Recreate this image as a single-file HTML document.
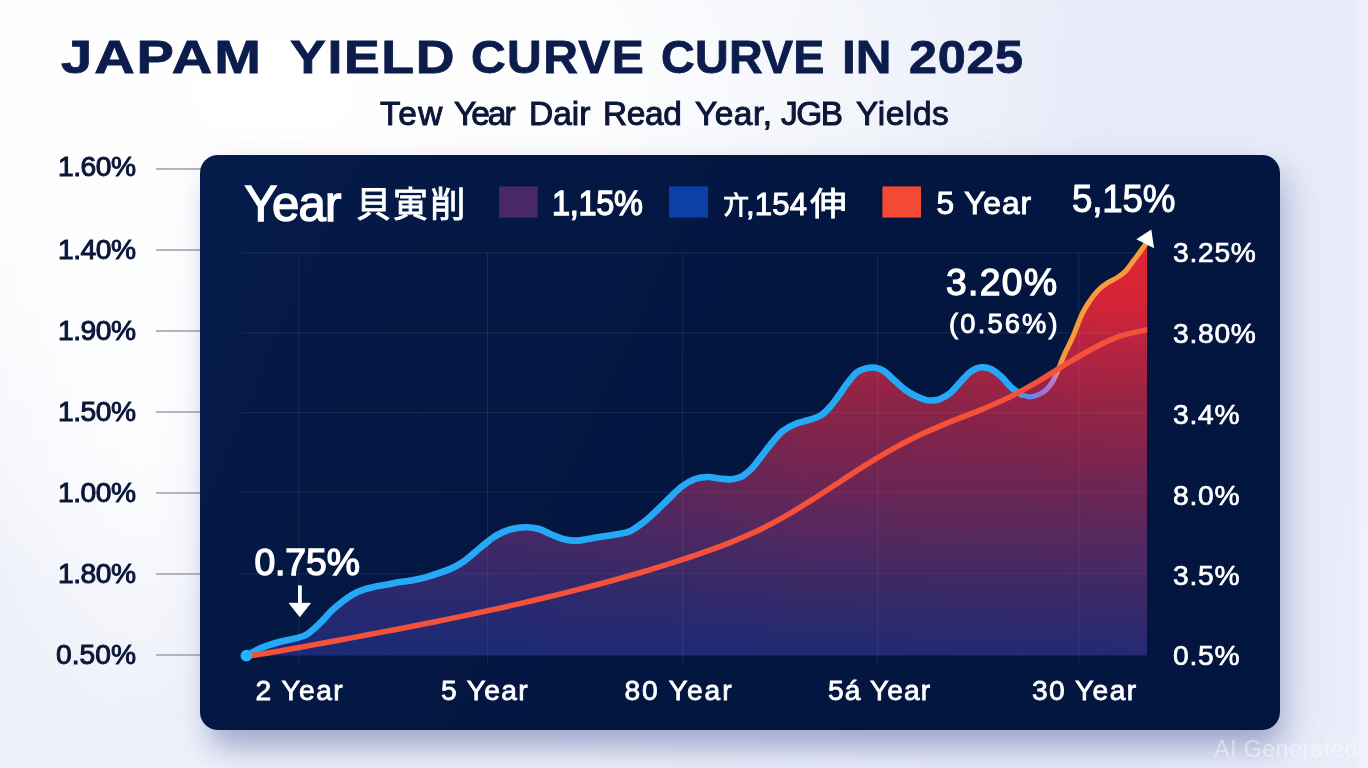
<!DOCTYPE html>
<html lang="en">
<head>
<meta charset="utf-8">
<title>Japan Yield Curve in 2025</title>
<style>
html,body{margin:0;padding:0;}
body{width:1368px;height:768px;overflow:hidden;background:#eef1fa;font-family:"Liberation Sans","Noto Sans CJK JP",sans-serif;}
#stage{position:relative;width:1368px;height:768px;overflow:hidden;
  background:
    linear-gradient(90deg, rgba(255,255,255,0) 0, rgba(255,255,255,0) 1352px, rgba(255,255,255,.28) 1362px, rgba(255,255,255,.28) 1368px),
    radial-gradient(ellipse 170px 330px at 140px 400px, rgba(255,255,255,.75) 0%, rgba(255,255,255,.45) 50%, rgba(255,255,255,0) 100%),
    radial-gradient(ellipse 820px 520px at 20% 12%, #ffffff 0%, rgba(255,255,255,.85) 40%, rgba(255,255,255,0) 100%),
    linear-gradient(100deg, #eff1f9 0%, #edf0f9 45%, #e7ebf8 75%, #e9edf9 100%);}
.tx{position:absolute;white-space:nowrap;transform-origin:0 50%;line-height:1;margin:0;padding:0;font-weight:normal;font-family:"Liberation Sans","Noto Sans CJK JP",sans-serif;}
.cjk{font-family:"Noto Sans CJK JP","Liberation Sans",sans-serif;font-weight:400;}
h1,h2,p{margin:0;padding:0;font-size:inherit;font-weight:inherit;}
.tick{position:absolute;left:156px;width:46px;height:2px;background:#b3b5bc;display:block;}
#panel{position:absolute;left:200px;top:155px;width:1079.5px;height:575px;border-radius:18px;background:linear-gradient(115deg,#051b4a 0%,#041844 22%,#031640 50%,#031640 100%);
  box-shadow: 10px 14px 28px rgba(84,100,160,.22), 4px 26px 26px -10px rgba(84,100,160,.30), 8px 16px 50px rgba(120,135,200,.12);}
#chart{position:absolute;left:0;top:0;width:1368px;height:768px;overflow:visible;}
</style>
</head>
<body>
<div id="stage">
<div id="yaxis"><i class="tick" style="top:168px"></i><i class="tick" style="top:249px"></i><i class="tick" style="top:330px"></i><i class="tick" style="top:411px"></i><i class="tick" style="top:492px"></i><i class="tick" style="top:573px"></i><i class="tick" style="top:654px"></i></div>
<div id="panel"></div>
<svg id="chart" viewBox="0 0 1368 768" width="1368" height="768">
<defs>
<linearGradient id="gfill" gradientUnits="userSpaceOnUse" x1="0" y1="236" x2="0" y2="656">
<stop offset="0" stop-color="#dc232f"/>
<stop offset="0.152" stop-color="#cf2336"/>
<stop offset="0.27" stop-color="#aa2342"/>
<stop offset="0.39" stop-color="#8e2347"/>
<stop offset="0.471" stop-color="#81244b"/>
<stop offset="0.59" stop-color="#6c2554"/>
<stop offset="0.71" stop-color="#55285f"/>
<stop offset="0.829" stop-color="#3b2966"/>
<stop offset="0.948" stop-color="#272a70"/>
<stop offset="1" stop-color="#202a75"/>
</linearGradient>
<linearGradient id="gline" gradientUnits="userSpaceOnUse" x1="1014" y1="0" x2="1062" y2="0">
<stop offset="0" stop-color="#25a9f7"/>
<stop offset="0.28" stop-color="#5b8df0"/>
<stop offset="0.60" stop-color="#9a72dc"/>
<stop offset="0.84" stop-color="#b87ac8"/>
<stop offset="0.93" stop-color="#f0905a"/>
<stop offset="1" stop-color="#f89a3a"/>
</linearGradient>
<path id="areaB" d="M247.0,655.5C249.4,654.2 256.2,650.0 261.4,647.8C266.6,645.6 272.6,643.8 278.3,642.2C284.0,640.6 290.5,639.7 295.3,638.4C300.1,637.1 302.9,636.9 307.1,634.2C311.3,631.6 316.5,626.4 320.6,622.5C324.7,618.6 328.1,614.1 331.7,610.6C335.3,607.1 338.6,604.5 342.1,601.8C345.6,599.1 349.0,596.6 352.5,594.6C356.0,592.6 359.4,591.1 362.9,589.9C366.4,588.6 369.4,588.0 373.3,587.1C377.2,586.2 381.6,585.6 386.0,584.8C390.4,583.9 396.1,582.7 400.0,582.0C403.9,581.3 404.5,581.7 409.2,580.8C413.9,579.9 421.0,578.7 428.0,576.6C435.0,574.5 445.3,571.0 451.4,568.4C457.5,565.8 459.6,564.4 464.4,561.0C469.2,557.6 474.8,552.2 480.0,548.0C485.2,543.8 490.4,538.9 495.6,535.8C500.8,532.7 505.9,530.6 511.0,529.2C516.1,527.8 521.3,527.2 526.0,527.2C530.7,527.2 534.7,527.7 539.0,529.0C543.3,530.3 547.7,533.0 552.0,534.8C556.3,536.5 560.7,538.5 565.0,539.5C569.3,540.5 573.7,540.8 578.0,540.6C582.3,540.4 586.7,539.2 591.0,538.5C595.3,537.8 599.7,536.9 604.0,536.2C608.3,535.5 612.7,535.1 617.0,534.3C621.3,533.5 625.7,533.1 630.0,531.2C634.3,529.3 638.7,526.0 643.0,522.7C647.3,519.4 651.7,515.2 656.0,511.2C660.3,507.2 664.7,502.6 669.0,498.5C673.3,494.4 677.7,489.6 682.0,486.4C686.3,483.1 690.7,480.6 695.0,479.0C699.3,477.4 703.7,477.0 708.0,477.0C712.3,477.0 717.0,478.4 721.0,478.8C725.0,479.2 728.3,479.6 731.8,479.2C735.3,478.8 738.5,478.3 742.0,476.3C745.5,474.3 749.1,471.1 752.6,467.4C756.1,463.7 759.5,458.6 763.0,454.2C766.5,449.8 770.1,444.9 773.4,441.0C776.7,437.1 779.4,433.7 783.0,430.9C786.6,428.1 790.9,425.8 795.1,424.0C799.3,422.2 803.8,421.6 808.1,420.2C812.4,418.8 817.5,417.5 821.1,415.3C824.7,413.1 827.1,410.1 829.9,407.0C832.7,403.9 835.2,400.3 838.0,396.6C840.8,392.9 843.3,388.6 846.4,384.6C849.5,380.6 853.3,375.1 856.8,372.4C860.3,369.6 864.1,368.9 867.2,368.1C870.4,367.3 872.8,367.3 875.6,367.8C878.4,368.3 880.8,368.9 883.9,371.0C887.0,373.1 890.8,377.1 894.3,380.2C897.8,383.3 901.3,386.9 904.8,389.5C908.2,392.1 911.7,394.1 915.2,395.8C918.7,397.5 922.8,399.1 925.6,399.9C928.4,400.7 929.4,400.6 931.8,400.5C934.2,400.4 937.1,400.3 940.2,399.0C943.3,397.7 947.2,395.6 950.6,392.8C954.0,390.0 957.1,385.6 960.5,382.0C963.9,378.4 967.6,373.8 971.0,371.4C974.4,368.9 977.6,367.7 981.0,367.3C984.4,366.9 987.9,367.6 991.4,369.2C994.9,370.8 998.4,374.1 1001.8,377.2C1005.2,380.3 1008.5,385.0 1012.0,388.0C1015.5,391.0 1019.4,393.5 1022.6,395.0C1025.8,396.5 1028.1,397.0 1031.0,396.8C1033.9,396.6 1037.5,395.2 1040.0,394.0C1042.5,392.8 1044.1,391.6 1046.0,389.8C1047.9,388.0 1049.9,385.7 1051.6,383.2C1053.3,380.7 1054.7,377.6 1056.0,374.8C1057.3,372.0 1057.9,370.2 1059.4,366.5C1060.9,362.8 1062.9,357.8 1065.2,352.6C1067.5,347.4 1070.7,341.8 1073.4,335.5C1076.1,329.2 1078.9,320.8 1081.6,315.0C1084.3,309.2 1087.1,305.0 1089.8,300.9C1092.5,296.8 1095.1,293.4 1098.0,290.4C1100.9,287.4 1104.1,285.1 1107.4,282.9C1110.7,280.7 1114.9,279.1 1118.0,277.0C1121.1,274.9 1123.7,273.1 1126.2,270.4C1128.7,267.7 1130.9,264.1 1133.2,261.0C1135.5,257.9 1138.1,254.6 1140.2,251.7C1142.3,248.8 1145.1,244.9 1146.1,243.5L1147,243.5L1147,655.5L247,655.5Z"/>
<path id="areaR" d="M252.0,655.5C256.7,654.8 270.7,652.6 280.0,651.0C289.3,649.4 298.7,647.6 308.0,645.9C317.3,644.2 326.7,642.4 336.0,640.7C345.3,639.0 354.7,637.2 364.0,635.5C373.3,633.8 382.7,632.0 392.0,630.2C401.3,628.4 410.7,626.6 420.0,624.7C429.3,622.9 438.7,621.0 448.0,619.1C457.3,617.2 466.7,615.3 476.0,613.3C485.3,611.3 494.7,609.3 504.0,607.2C513.3,605.1 522.7,603.0 532.0,600.8C541.3,598.6 550.7,596.4 560.0,594.1C569.3,591.8 578.7,589.4 588.0,587.0C597.3,584.6 606.7,582.1 616.0,579.5C625.3,576.9 634.7,574.3 644.0,571.5C653.3,568.7 662.7,565.9 672.0,562.9C681.3,559.9 690.7,556.9 700.0,553.6C709.3,550.4 718.7,547.1 728.0,543.4C737.3,539.7 746.7,536.0 756.0,531.6C765.3,527.2 774.7,522.2 784.0,516.9C793.3,511.6 802.7,505.8 812.0,499.9C821.3,494.0 830.7,487.7 840.0,481.7C849.3,475.7 858.7,469.4 868.0,463.7C877.3,457.9 886.7,452.3 896.0,447.2C905.3,442.1 914.7,437.5 924.0,433.1C933.3,428.8 942.7,424.9 952.0,421.1C961.3,417.3 970.7,414.0 980.0,410.1C989.3,406.2 998.7,402.5 1008.0,397.9C1017.3,393.3 1026.7,388.1 1036.0,382.7C1045.3,377.3 1054.7,371.0 1064.0,365.4C1073.3,359.8 1082.7,353.9 1092.0,349.0C1101.3,344.1 1110.8,339.4 1120.0,336.2C1129.2,333.0 1142.5,330.8 1147.0,329.7L1147,655.5L252,655.5Z"/>
<clipPath id="area"><use href="#areaB"/><use href="#areaR"/></clipPath>
<linearGradient id="gtint" gradientUnits="userSpaceOnUse" x1="247" y1="0" x2="1147" y2="0">
<stop offset="0" stop-color="#10287a" stop-opacity="0.36"/>
<stop offset="0.30" stop-color="#10287a" stop-opacity="0.24"/>
<stop offset="0.48" stop-color="#10287a" stop-opacity="0.13"/>
<stop offset="0.61" stop-color="#10287a" stop-opacity="0.02"/>
<stop offset="0.62" stop-color="#c82040" stop-opacity="0"/>
<stop offset="1" stop-color="#c82040" stop-opacity="0.03"/>
</linearGradient>
<radialGradient id="gred" gradientUnits="userSpaceOnUse" cx="1147" cy="255" r="235">
<stop offset="0" stop-color="#f02838" stop-opacity="0.26"/>
<stop offset="1" stop-color="#f02838" stop-opacity="0"/>
</radialGradient>
<clipPath id="plot"><rect x="240" y="225" width="907.3" height="430.5"/></clipPath>
<clipPath id="plot2"><rect x="230" y="225" width="917.3" height="450"/></clipPath>
<clipPath id="leftpart"><rect x="230" y="225" width="792" height="450"/></clipPath>
</defs>
<g stroke="rgba(255,255,255,0.075)" stroke-width="1.1" fill="none"><line x1="242" x2="1147" y1="252.9" y2="252.9"/><line x1="242" x2="1147" y1="332.9" y2="332.9"/><line x1="242" x2="1147" y1="412.6" y2="412.6"/><line x1="242" x2="1147" y1="492.3" y2="492.3"/><line x1="242" x2="1147" y1="573.8" y2="573.8"/><line x1="299" x2="299" y1="252.9" y2="663"/><line x1="487.5" x2="487.5" y1="252.9" y2="663"/><line x1="682.6" x2="682.6" y1="252.9" y2="663"/><line x1="877.6" x2="877.6" y1="252.9" y2="663"/><line x1="1079" x2="1079" y1="252.9" y2="663"/></g>
<g clip-path="url(#plot)">
<g fill="url(#gfill)"><use href="#areaB"/><use href="#areaR"/></g>
<g fill="url(#gtint)"><use href="#areaB"/></g>
<g fill="url(#gred)"><use href="#areaB"/></g>
</g>
<g clip-path="url(#area)" stroke="rgba(255,255,255,0.06)" stroke-width="1.1" fill="none"><line x1="242" x2="1147" y1="252.9" y2="252.9"/><line x1="242" x2="1147" y1="332.9" y2="332.9"/><line x1="242" x2="1147" y1="412.6" y2="412.6"/><line x1="242" x2="1147" y1="492.3" y2="492.3"/><line x1="242" x2="1147" y1="573.8" y2="573.8"/><line x1="299" x2="299" y1="252.9" y2="663"/><line x1="487.5" x2="487.5" y1="252.9" y2="663"/><line x1="682.6" x2="682.6" y1="252.9" y2="663"/><line x1="877.6" x2="877.6" y1="252.9" y2="663"/><line x1="1079" x2="1079" y1="252.9" y2="663"/></g>
<path d="M247.0,655.5C249.4,654.2 256.2,650.0 261.4,647.8C266.6,645.6 272.6,643.8 278.3,642.2C284.0,640.6 290.5,639.7 295.3,638.4C300.1,637.1 302.9,636.9 307.1,634.2C311.3,631.6 316.5,626.4 320.6,622.5C324.7,618.6 328.1,614.1 331.7,610.6C335.3,607.1 338.6,604.5 342.1,601.8C345.6,599.1 349.0,596.6 352.5,594.6C356.0,592.6 359.4,591.1 362.9,589.9C366.4,588.6 369.4,588.0 373.3,587.1C377.2,586.2 381.6,585.6 386.0,584.8C390.4,583.9 396.1,582.7 400.0,582.0C403.9,581.3 404.5,581.7 409.2,580.8C413.9,579.9 421.0,578.7 428.0,576.6C435.0,574.5 445.3,571.0 451.4,568.4C457.5,565.8 459.6,564.4 464.4,561.0C469.2,557.6 474.8,552.2 480.0,548.0C485.2,543.8 490.4,538.9 495.6,535.8C500.8,532.7 505.9,530.6 511.0,529.2C516.1,527.8 521.3,527.2 526.0,527.2C530.7,527.2 534.7,527.7 539.0,529.0C543.3,530.3 547.7,533.0 552.0,534.8C556.3,536.5 560.7,538.5 565.0,539.5C569.3,540.5 573.7,540.8 578.0,540.6C582.3,540.4 586.7,539.2 591.0,538.5C595.3,537.8 599.7,536.9 604.0,536.2C608.3,535.5 612.7,535.1 617.0,534.3C621.3,533.5 625.7,533.1 630.0,531.2C634.3,529.3 638.7,526.0 643.0,522.7C647.3,519.4 651.7,515.2 656.0,511.2C660.3,507.2 664.7,502.6 669.0,498.5C673.3,494.4 677.7,489.6 682.0,486.4C686.3,483.1 690.7,480.6 695.0,479.0C699.3,477.4 703.7,477.0 708.0,477.0C712.3,477.0 717.0,478.4 721.0,478.8C725.0,479.2 728.3,479.6 731.8,479.2C735.3,478.8 738.5,478.3 742.0,476.3C745.5,474.3 749.1,471.1 752.6,467.4C756.1,463.7 759.5,458.6 763.0,454.2C766.5,449.8 770.1,444.9 773.4,441.0C776.7,437.1 779.4,433.7 783.0,430.9C786.6,428.1 790.9,425.8 795.1,424.0C799.3,422.2 803.8,421.6 808.1,420.2C812.4,418.8 817.5,417.5 821.1,415.3C824.7,413.1 827.1,410.1 829.9,407.0C832.7,403.9 835.2,400.3 838.0,396.6C840.8,392.9 843.3,388.6 846.4,384.6C849.5,380.6 853.3,375.1 856.8,372.4C860.3,369.6 864.1,368.9 867.2,368.1C870.4,367.3 872.8,367.3 875.6,367.8C878.4,368.3 880.8,368.9 883.9,371.0C887.0,373.1 890.8,377.1 894.3,380.2C897.8,383.3 901.3,386.9 904.8,389.5C908.2,392.1 911.7,394.1 915.2,395.8C918.7,397.5 922.8,399.1 925.6,399.9C928.4,400.7 929.4,400.6 931.8,400.5C934.2,400.4 937.1,400.3 940.2,399.0C943.3,397.7 947.2,395.6 950.6,392.8C954.0,390.0 957.1,385.6 960.5,382.0C963.9,378.4 967.6,373.8 971.0,371.4C974.4,368.9 977.6,367.7 981.0,367.3C984.4,366.9 987.9,367.6 991.4,369.2C994.9,370.8 998.4,374.1 1001.8,377.2C1005.2,380.3 1008.5,385.0 1012.0,388.0C1015.5,391.0 1019.4,393.5 1022.6,395.0C1025.8,396.5 1028.1,397.0 1031.0,396.8C1033.9,396.6 1037.5,395.2 1040.0,394.0C1042.5,392.8 1044.1,391.6 1046.0,389.8C1047.9,388.0 1049.9,385.7 1051.6,383.2C1053.3,380.7 1054.7,377.6 1056.0,374.8C1057.3,372.0 1057.9,370.2 1059.4,366.5C1060.9,362.8 1062.9,357.8 1065.2,352.6C1067.5,347.4 1070.7,341.8 1073.4,335.5C1076.1,329.2 1078.9,320.8 1081.6,315.0C1084.3,309.2 1087.1,305.0 1089.8,300.9C1092.5,296.8 1095.1,293.4 1098.0,290.4C1100.9,287.4 1104.1,285.1 1107.4,282.9C1110.7,280.7 1114.9,279.1 1118.0,277.0C1121.1,274.9 1123.7,273.1 1126.2,270.4C1128.7,267.7 1130.9,264.1 1133.2,261.0C1135.5,257.9 1138.1,254.6 1140.2,251.7C1142.3,248.8 1145.1,244.9 1146.1,243.5" fill="none" stroke="url(#gline)" stroke-width="5.1" stroke-linecap="round" stroke-linejoin="round"/>
<path d="M247.0,655.5C249.4,654.2 256.2,650.0 261.4,647.8C266.6,645.6 272.6,643.8 278.3,642.2C284.0,640.6 290.5,639.7 295.3,638.4C300.1,637.1 302.9,636.9 307.1,634.2C311.3,631.6 316.5,626.4 320.6,622.5C324.7,618.6 328.1,614.1 331.7,610.6C335.3,607.1 338.6,604.5 342.1,601.8C345.6,599.1 349.0,596.6 352.5,594.6C356.0,592.6 359.4,591.1 362.9,589.9C366.4,588.6 369.4,588.0 373.3,587.1C377.2,586.2 381.6,585.6 386.0,584.8C390.4,583.9 396.1,582.7 400.0,582.0C403.9,581.3 404.5,581.7 409.2,580.8C413.9,579.9 421.0,578.7 428.0,576.6C435.0,574.5 445.3,571.0 451.4,568.4C457.5,565.8 459.6,564.4 464.4,561.0C469.2,557.6 474.8,552.2 480.0,548.0C485.2,543.8 490.4,538.9 495.6,535.8C500.8,532.7 505.9,530.6 511.0,529.2C516.1,527.8 521.3,527.2 526.0,527.2C530.7,527.2 534.7,527.7 539.0,529.0C543.3,530.3 547.7,533.0 552.0,534.8C556.3,536.5 560.7,538.5 565.0,539.5C569.3,540.5 573.7,540.8 578.0,540.6C582.3,540.4 586.7,539.2 591.0,538.5C595.3,537.8 599.7,536.9 604.0,536.2C608.3,535.5 612.7,535.1 617.0,534.3C621.3,533.5 625.7,533.1 630.0,531.2C634.3,529.3 638.7,526.0 643.0,522.7C647.3,519.4 651.7,515.2 656.0,511.2C660.3,507.2 664.7,502.6 669.0,498.5C673.3,494.4 677.7,489.6 682.0,486.4C686.3,483.1 690.7,480.6 695.0,479.0C699.3,477.4 703.7,477.0 708.0,477.0C712.3,477.0 717.0,478.4 721.0,478.8C725.0,479.2 728.3,479.6 731.8,479.2C735.3,478.8 738.5,478.3 742.0,476.3C745.5,474.3 749.1,471.1 752.6,467.4C756.1,463.7 759.5,458.6 763.0,454.2C766.5,449.8 770.1,444.9 773.4,441.0C776.7,437.1 779.4,433.7 783.0,430.9C786.6,428.1 790.9,425.8 795.1,424.0C799.3,422.2 803.8,421.6 808.1,420.2C812.4,418.8 817.5,417.5 821.1,415.3C824.7,413.1 827.1,410.1 829.9,407.0C832.7,403.9 835.2,400.3 838.0,396.6C840.8,392.9 843.3,388.6 846.4,384.6C849.5,380.6 853.3,375.1 856.8,372.4C860.3,369.6 864.1,368.9 867.2,368.1C870.4,367.3 872.8,367.3 875.6,367.8C878.4,368.3 880.8,368.9 883.9,371.0C887.0,373.1 890.8,377.1 894.3,380.2C897.8,383.3 901.3,386.9 904.8,389.5C908.2,392.1 911.7,394.1 915.2,395.8C918.7,397.5 922.8,399.1 925.6,399.9C928.4,400.7 929.4,400.6 931.8,400.5C934.2,400.4 937.1,400.3 940.2,399.0C943.3,397.7 947.2,395.6 950.6,392.8C954.0,390.0 957.1,385.6 960.5,382.0C963.9,378.4 967.6,373.8 971.0,371.4C974.4,368.9 977.6,367.7 981.0,367.3C984.4,366.9 987.9,367.6 991.4,369.2C994.9,370.8 998.4,374.1 1001.8,377.2C1005.2,380.3 1008.5,385.0 1012.0,388.0C1015.5,391.0 1019.4,393.5 1022.6,395.0C1025.8,396.5 1028.1,397.0 1031.0,396.8C1033.9,396.6 1037.5,395.2 1040.0,394.0C1042.5,392.8 1044.1,391.6 1046.0,389.8C1047.9,388.0 1049.9,385.7 1051.6,383.2C1053.3,380.7 1054.7,377.6 1056.0,374.8C1057.3,372.0 1057.9,370.2 1059.4,366.5C1060.9,362.8 1062.9,357.8 1065.2,352.6C1067.5,347.4 1070.7,341.8 1073.4,335.5C1076.1,329.2 1078.9,320.8 1081.6,315.0C1084.3,309.2 1087.1,305.0 1089.8,300.9C1092.5,296.8 1095.1,293.4 1098.0,290.4C1100.9,287.4 1104.1,285.1 1107.4,282.9C1110.7,280.7 1114.9,279.1 1118.0,277.0C1121.1,274.9 1123.7,273.1 1126.2,270.4C1128.7,267.7 1130.9,264.1 1133.2,261.0C1135.5,257.9 1138.1,254.6 1140.2,251.7C1142.3,248.8 1145.1,244.9 1146.1,243.5" fill="none" stroke="url(#gline)" stroke-width="6.6" stroke-linecap="round" stroke-linejoin="round" clip-path="url(#leftpart)"/>
<path d="M252.0,655.5C256.7,654.8 270.7,652.6 280.0,651.0C289.3,649.4 298.7,647.6 308.0,645.9C317.3,644.2 326.7,642.4 336.0,640.7C345.3,639.0 354.7,637.2 364.0,635.5C373.3,633.8 382.7,632.0 392.0,630.2C401.3,628.4 410.7,626.6 420.0,624.7C429.3,622.9 438.7,621.0 448.0,619.1C457.3,617.2 466.7,615.3 476.0,613.3C485.3,611.3 494.7,609.3 504.0,607.2C513.3,605.1 522.7,603.0 532.0,600.8C541.3,598.6 550.7,596.4 560.0,594.1C569.3,591.8 578.7,589.4 588.0,587.0C597.3,584.6 606.7,582.1 616.0,579.5C625.3,576.9 634.7,574.3 644.0,571.5C653.3,568.7 662.7,565.9 672.0,562.9C681.3,559.9 690.7,556.9 700.0,553.6C709.3,550.4 718.7,547.1 728.0,543.4C737.3,539.7 746.7,536.0 756.0,531.6C765.3,527.2 774.7,522.2 784.0,516.9C793.3,511.6 802.7,505.8 812.0,499.9C821.3,494.0 830.7,487.7 840.0,481.7C849.3,475.7 858.7,469.4 868.0,463.7C877.3,457.9 886.7,452.3 896.0,447.2C905.3,442.1 914.7,437.5 924.0,433.1C933.3,428.8 942.7,424.9 952.0,421.1C961.3,417.3 970.7,414.0 980.0,410.1C989.3,406.2 998.7,402.5 1008.0,397.9C1017.3,393.3 1026.7,388.1 1036.0,382.7C1045.3,377.3 1054.7,371.0 1064.0,365.4C1073.3,359.8 1082.7,353.9 1092.0,349.0C1101.3,344.1 1110.8,339.4 1120.0,336.2C1129.2,333.0 1142.5,330.8 1147.0,329.7" fill="none" stroke="#f4513a" stroke-width="5.5" stroke-linecap="round" stroke-linejoin="round" clip-path="url(#plot2)"/>
<circle cx="246.4" cy="655.6" r="5.9" fill="#2ab2f7"/>
<polygon points="1151.3,229.6 1136.3,239.2 1154.1,248.3" fill="#ffffff"/>
<g fill="#ffffff"><rect x="298" y="585.4" width="3.8" height="19"/><polygon points="289.3,603.3 310.3,603.3 299.8,616.6" stroke="#fff" stroke-width="1" stroke-linejoin="round"/></g>
<rect x="499" y="186.4" width="38.6" height="31.2" fill="#482868"/>
<rect x="669" y="186.4" width="39" height="31.2" fill="#0b40a6"/>
<rect x="882.4" y="186.4" width="38.6" height="31.2" fill="#f24a33"/>
</svg>
<h1><span id="t0" class="tx tw" style="left:61.00px;top:34.29px;font-size:46.66px;letter-spacing:1.667px;color:#0c1c4c;font-weight:bold;-webkit-text-stroke:0.8px #0c1c4c;transform:scaleX(1.200);">JAPAM</span> <span id="t1" class="tx tw" style="left:290.00px;top:34.29px;font-size:46.66px;letter-spacing:1.413px;color:#0c1c4c;font-weight:bold;-webkit-text-stroke:0.8px #0c1c4c;transform:scaleX(1.150);">YIELD</span> <span id="t2" class="tx tw" style="left:471.00px;top:34.29px;font-size:46.66px;letter-spacing:1.335px;color:#0c1c4c;font-weight:bold;-webkit-text-stroke:0.8px #0c1c4c;transform:scaleX(1.030);">CURVE</span> <span id="t3" class="tx tw" style="left:661.00px;top:34.29px;font-size:46.66px;letter-spacing:0.250px;color:#0c1c4c;font-weight:bold;-webkit-text-stroke:0.8px #0c1c4c;">CURVE</span> <span id="t4" class="tx tw" style="left:842.00px;top:34.29px;font-size:46.66px;letter-spacing:0.000px;color:#0c1c4c;font-weight:bold;-webkit-text-stroke:0.8px #0c1c4c;transform:scaleX(1.060);">IN</span> <span id="t5" class="tx tw" style="left:909.00px;top:34.29px;font-size:46.66px;letter-spacing:0.617px;color:#0c1c4c;font-weight:bold;-webkit-text-stroke:0.8px #0c1c4c;transform:scaleX(1.080);">2025</span></h1>
<h2><span id="s0" class="tx sw" style="left:380.00px;top:96.98px;font-size:33.43px;letter-spacing:1.500px;color:#0b1638;-webkit-text-stroke:1.0px #0b1638;">Tew</span> <span id="s1" class="tx sw" style="left:454.00px;top:96.98px;font-size:33.43px;letter-spacing:-2.000px;color:#0b1638;-webkit-text-stroke:1.0px #0b1638;">Year</span> <span id="s2" class="tx sw" style="left:529.00px;top:96.98px;font-size:33.43px;letter-spacing:0.000px;color:#0b1638;-webkit-text-stroke:1.0px #0b1638;">Dair</span> <span id="s3" class="tx sw" style="left:603.00px;top:96.98px;font-size:33.43px;letter-spacing:-0.333px;color:#0b1638;-webkit-text-stroke:1.0px #0b1638;">Read</span> <span id="s4" class="tx sw" style="left:695.00px;top:96.98px;font-size:33.43px;letter-spacing:0.500px;color:#0b1638;-webkit-text-stroke:1.0px #0b1638;">Year,</span> <span id="s5" class="tx sw" style="left:781.00px;top:96.98px;font-size:33.43px;letter-spacing:-1.500px;color:#0b1638;-webkit-text-stroke:1.0px #0b1638;">JGB</span> <span id="s6" class="tx sw" style="left:856.00px;top:96.98px;font-size:33.43px;letter-spacing:0.600px;color:#0b1638;-webkit-text-stroke:1.0px #0b1638;">Yields</span></h2>
<div id="labels">
<span id="l0" class="tx yl" style="left:58.00px;top:152.43px;font-size:28.20px;letter-spacing:-0.450px;color:#0b1638;-webkit-text-stroke:1.0px #0b1638;">1.60%</span>
<span id="l1" class="tx yl" style="left:58.00px;top:234.83px;font-size:28.20px;letter-spacing:-0.450px;color:#0b1638;-webkit-text-stroke:1.0px #0b1638;">1.40%</span>
<span id="l2" class="tx yl" style="left:58.00px;top:315.83px;font-size:28.20px;letter-spacing:-0.450px;color:#0b1638;-webkit-text-stroke:1.0px #0b1638;">1.90%</span>
<span id="l3" class="tx yl" style="left:58.00px;top:396.83px;font-size:28.20px;letter-spacing:-0.450px;color:#0b1638;-webkit-text-stroke:1.0px #0b1638;">1.50%</span>
<span id="l4" class="tx yl" style="left:58.00px;top:478.23px;font-size:28.20px;letter-spacing:-0.450px;color:#0b1638;-webkit-text-stroke:1.0px #0b1638;">1.00%</span>
<span id="l5" class="tx yl" style="left:58.00px;top:558.83px;font-size:28.20px;letter-spacing:-0.450px;color:#0b1638;-webkit-text-stroke:1.0px #0b1638;">1.80%</span>
<span id="l6" class="tx yl" style="left:56.00px;top:640.43px;font-size:28.20px;letter-spacing:0.050px;color:#0b1638;-webkit-text-stroke:1.0px #0b1638;">0.50%</span>
<span id="r0" class="tx yr" style="left:1173.00px;top:237.63px;font-size:28.20px;letter-spacing:0.750px;color:#fff;-webkit-text-stroke:0.7px #fff;">3.25%</span>
<span id="r1" class="tx yr" style="left:1173.00px;top:319.43px;font-size:28.20px;letter-spacing:0.750px;color:#fff;-webkit-text-stroke:0.7px #fff;">3.80%</span>
<span id="r2" class="tx yr" style="left:1173.00px;top:400.03px;font-size:28.20px;letter-spacing:0.800px;color:#fff;-webkit-text-stroke:0.7px #fff;">3.4%</span>
<span id="r3" class="tx yr" style="left:1173.00px;top:481.23px;font-size:28.20px;letter-spacing:0.800px;color:#fff;-webkit-text-stroke:0.7px #fff;">8.0%</span>
<span id="r4" class="tx yr" style="left:1173.00px;top:561.23px;font-size:28.20px;letter-spacing:0.800px;color:#fff;-webkit-text-stroke:0.7px #fff;">3.5%</span>
<span id="r5" class="tx yr" style="left:1173.00px;top:641.23px;font-size:28.20px;letter-spacing:0.800px;color:#fff;-webkit-text-stroke:0.7px #fff;">0.5%</span>
<span id="x0" class="tx xl" style="left:255.60px;top:676.23px;font-size:28.20px;letter-spacing:1.420px;color:#fff;-webkit-text-stroke:0.8px #fff;">2 Year</span>
<span id="x1" class="tx xl" style="left:441.00px;top:676.23px;font-size:28.20px;letter-spacing:1.320px;color:#fff;-webkit-text-stroke:0.8px #fff;">5 Year</span>
<span id="x2" class="tx xl" style="left:624.40px;top:676.23px;font-size:28.20px;letter-spacing:1.917px;color:#fff;-webkit-text-stroke:0.8px #fff;">80 Year</span>
<span id="x3" class="tx xl" style="left:828.00px;top:676.23px;font-size:28.20px;letter-spacing:1.083px;color:#fff;-webkit-text-stroke:0.8px #fff;">5á Year</span>
<span id="x4" class="tx xl" style="left:1032.00px;top:676.23px;font-size:28.20px;letter-spacing:1.433px;color:#fff;-webkit-text-stroke:0.8px #fff;">30 Year</span>
<span id="lg0" class="tx lg" style="left:244.60px;top:179.64px;font-size:49.13px;letter-spacing:-0.833px;color:#fff;-webkit-text-stroke:1.5px #fff;">Year</span>
<span id="lg1" class="tx lgc cjk" style="left:356.00px;top:183.50px;font-size:35.00px;letter-spacing:2.100px;color:#fff;-webkit-text-stroke:0.9px #fff;">貝寅削</span>
<span id="lg2" class="tx lg" style="left:551.80px;top:185.43px;font-size:35.32px;letter-spacing:-0.326px;color:#fff;-webkit-text-stroke:1.3px #fff;transform:scaleX(0.920);">1,15%</span>
<span class="grp"><span id="lg3a" class="tx lgc cjk" style="left:723.00px;top:192.31px;font-size:24.50px;letter-spacing:0.000px;color:#fff;-webkit-text-stroke:1.0px #fff;transform:scaleX(1.068);">亣</span><span id="lg3b" class="tx lg" style="left:746.00px;top:188.86px;font-size:31.10px;letter-spacing:0.167px;color:#fff;-webkit-text-stroke:1.0px #fff;">,154</span><span id="lg3c" class="tx lgc cjk" style="left:810.00px;top:185.14px;font-size:32.00px;letter-spacing:0.000px;color:#fff;-webkit-text-stroke:0.8px #fff;transform:scaleX(1.145);">伸</span></span>
<span id="lg4" class="tx lg" style="left:936.40px;top:187.77px;font-size:31.69px;letter-spacing:0.960px;color:#fff;-webkit-text-stroke:1.0px #fff;">5 Year</span>
<span id="lg5" class="tx lg" style="left:1071.60px;top:179.02px;font-size:39.10px;letter-spacing:-0.186px;color:#fff;-webkit-text-stroke:1.0px #fff;transform:scaleX(0.940);">5,15%</span>
<span id="a0" class="tx an" style="left:254.40px;top:544.40px;font-size:37.35px;letter-spacing:-0.075px;color:#fff;-webkit-text-stroke:1.4px #fff;">0.75%</span>
<span id="a1" class="tx an" style="left:946.00px;top:264.17px;font-size:37.21px;letter-spacing:1.375px;color:#fff;-webkit-text-stroke:1.3px #fff;">3.20%</span>
<span id="a2" class="tx an" style="left:949.00px;top:310.27px;font-size:27.33px;letter-spacing:2.167px;color:#fff;-webkit-text-stroke:0.9px #fff;">(0.56%)</span>
<span id="wm" class="tx wm" style="left:1214.00px;top:737.76px;font-size:23.40px;letter-spacing:0.364px;color:rgba(255,255,255,0.42);">AI Generated</span>
</div>
</div>
</body>
</html>
